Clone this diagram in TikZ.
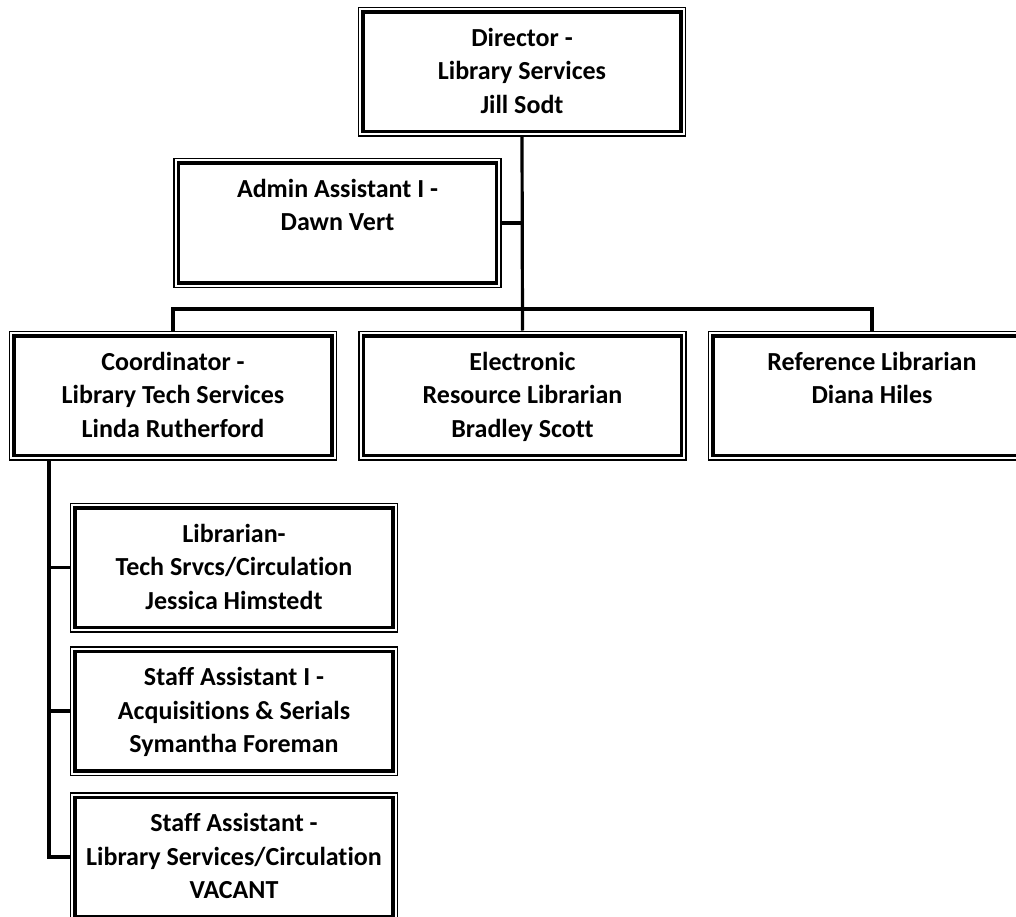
\documentclass[tikz,border=0pt]{standalone}
\usepackage{fontspec}
\setmainfont{Carlito}[Ligatures={NoCommon}]
\newcommand\boxlines[1]{\begin{tabular}[t]{@{}c@{}}#1\end{tabular}}
\begin{document}
\begin{tikzpicture}[x=1pt,y=-1pt,
  orgbox/.style={rectangle, draw, line width=1.5pt, minimum width=327pt, minimum height=128.5pt, inner sep=0pt,
    path picture={\draw[line width=3.5pt] ([shift={(4.5pt,-4.5pt)}]path picture bounding box.north west) rectangle ([shift={(-4.5pt,4.5pt)}]path picture bounding box.south east);}},
  txt/.style={anchor=base, inner sep=0pt, font=\fontsize{26}{33.5}\selectfont\bfseries},
  conn/.style={line width=3.2pt}]
\path[use as bounding box, clip] (0,0) rectangle (1016,917);
\fill[white] (0,0) rectangle (1016,917);
% boxes
\node[orgbox] (dir)   at (522,72)    {};
\node[orgbox] (adm)   at (337.5,223) {};
\node[orgbox] (coord) at (173,395.5) {};
\node[orgbox] (elec)  at (522.5,395.5) {};
\node[orgbox] (ref)   at (872,395.5) {};
\node[orgbox] (lib)   at (234,567.5) {};
\node[orgbox] (sa1)   at (234,711)   {};
\node[orgbox] (sa)    at (234,857)   {};
% texts
\node[txt] (dirT)   at ([yshift=-39.5pt]dir.north)   {\boxlines{Director -\\Library Services\\Jill Sodt}};
\node[txt] (admT)   at ([yshift=-39.5pt]adm.north)   {\boxlines{Admin Assistant I -\\Dawn Vert}};
\node[txt] (coordT) at ([yshift=-39.5pt]coord.north) {\boxlines{Coordinator -\\Library Tech Services\\Linda Rutherford}};
\node[txt] (elecT)  at ([yshift=-39.5pt]elec.north)  {\boxlines{Electronic\\Resource Librarian\\Bradley Scott}};
\node[txt] (refT)   at ([yshift=-39.5pt]ref.north)   {\boxlines{Reference Librarian\\Diana Hiles}};
\node[txt] (libT)   at ([yshift=-39.5pt]lib.north)   {\boxlines{Librarian-\\Tech Srvcs/Circulation\\Jessica Himstedt}};
\node[txt] (sa1T)   at ([yshift=-39.5pt]sa1.north)   {\boxlines{Staff Assistant I -\\Acquisitions \& Serials\\Symantha Foreman}};
\node[txt] (saT)    at ([yshift=-39.5pt]sa.north)    {\boxlines{Staff Assistant -\\Library Services/Circulation\\VACANT}};
% connectors
\coordinate (bus) at (0,309);
\coordinate (spine) at (49,460);
\draw[conn] (dir.south) -- (elec.north);
\draw[conn] (adm.east) -- (adm.east -| dir.south);
\draw[conn] (coord.north) -- (coord.north |- bus) -- (ref.north |- bus) -- (ref.north);
\draw[conn] (spine) |- (sa.west);
\draw[conn] (spine |- lib.west) -- (lib.west);
\draw[conn] (spine |- sa1.west) -- (sa1.west);
\end{tikzpicture}
\end{document}
